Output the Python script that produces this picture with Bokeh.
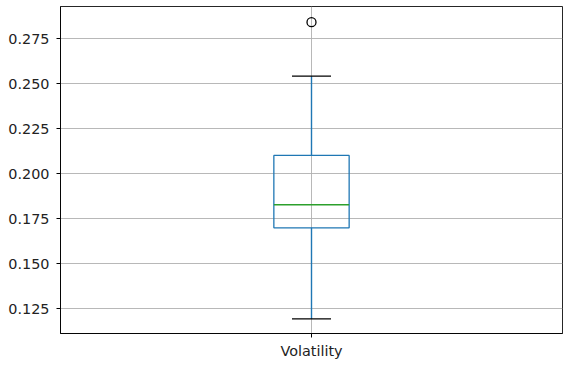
from bokeh.plotting import figure
from bokeh.models import FixedTicker, PrintfTickFormatter, Range1d
from bokeh.embed import file_html
from bokeh.resources import INLINE

# Data
categories = ["Volatility"]
positions = [1]
q1 = [0.170]
median = [0.1828]
q3 = [0.2102]
whisker_low = [0.1194]
whisker_high = [0.2542]
outlier_pos = [1]
outliers = [0.2842]
y_ticks = [0.125, 0.150, 0.175, 0.200, 0.225, 0.250, 0.275]

box_w = 0.15
cap_w = 0.0777

p = figure(width=572, height=361, output_backend="svg", toolbar_location=None,
           x_range=Range1d(0.5, 1.5), y_range=Range1d(0.1113, 0.2929),
           min_border_left=60, min_border_right=10, min_border_top=6, min_border_bottom=28)

p.background_fill_color = "white"
p.border_fill_color = "white"
p.outline_line_color = "black"
p.outline_line_width = 1
p.outline_line_alpha = 0.85

# axes
for ax in (p.xaxis[0], p.yaxis[0]):
    ax.axis_line_color = "black"
    ax.axis_line_alpha = 0.85
    ax.major_tick_line_color = "black"
    ax.major_tick_in = 0
    ax.major_tick_out = 4
    ax.minor_tick_line_color = None
    ax.major_label_text_font = "DejaVu Sans"
    ax.major_label_text_font_size = "14.4px"
    ax.major_label_text_color = "#222222"

p.yaxis.ticker = FixedTicker(ticks=y_ticks)
p.yaxis.formatter = PrintfTickFormatter(format="%.3f")
p.yaxis.major_label_standoff = 7
p.xaxis.ticker = FixedTicker(ticks=positions)
p.xaxis.major_label_overrides = {pos: c for pos, c in zip(positions, categories)}
p.xaxis.major_label_standoff = 5

p.xgrid.ticker = FixedTicker(ticks=positions)
p.ygrid.ticker = FixedTicker(ticks=y_ticks)
for g in (p.xgrid, p.ygrid):
    g.grid_line_color = "#b0b0b0"
    g.grid_line_width = 1
    g.grid_line_alpha = 0.9

blue = "#1f77b4"
# whiskers
p.segment(x0=positions, y0=q3, x1=positions, y1=whisker_high, line_color=blue, line_width=1.4)
p.segment(x0=positions, y0=whisker_low, x1=positions, y1=q1, line_color=blue, line_width=1.4)
# caps
p.segment(x0=[x - cap_w / 2 for x in positions], y0=whisker_high,
          x1=[x + cap_w / 2 for x in positions], y1=whisker_high, line_color="black", line_width=1.3)
p.segment(x0=[x - cap_w / 2 for x in positions], y0=whisker_low,
          x1=[x + cap_w / 2 for x in positions], y1=whisker_low, line_color="black", line_width=1.3)
# box
p.quad(left=[x - box_w / 2 for x in positions], right=[x + box_w / 2 for x in positions],
       bottom=q1, top=q3, fill_color=None, line_color=blue, line_width=1.3)
# median
p.segment(x0=[x - box_w / 2 for x in positions], y0=median,
          x1=[x + box_w / 2 for x in positions], y1=median, line_color="#2ca02c", line_width=1.3)
# outliers
p.scatter(x=outlier_pos, y=outliers, size=9, marker="circle", fill_color=None,
          line_color="black", line_width=1.3)

open("out.html", "w").write(file_html(p, INLINE))
